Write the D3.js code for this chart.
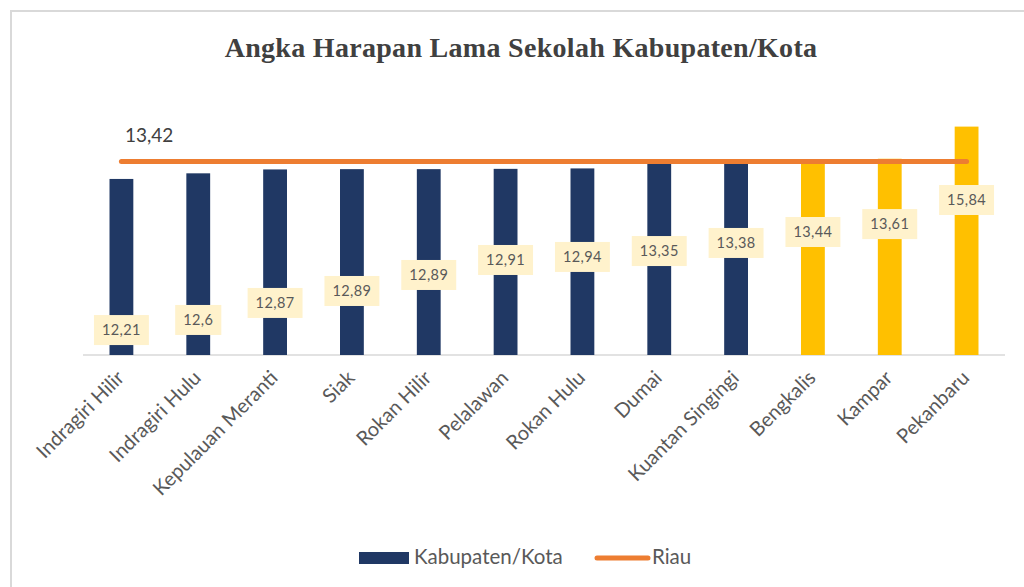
<!DOCTYPE html>
<html>
<head>
<meta charset="utf-8">
<script src="https://cdn.jsdelivr.net/npm/d3@7"></script>
<style>
  body { margin: 0; background: #fff; }
  svg { display: block; }
</style>
</head>
<body>
<div id="chart"></div>
<script>
const categories = ['Indragiri Hilir', 'Indragiri Hulu', 'Kepulauan Meranti', 'Siak', 'Rokan Hilir',
  'Pelalawan', 'Rokan Hulu', 'Dumai', 'Kuantan Singingi', 'Bengkalis', 'Kampar', 'Pekanbaru']
const values = [12.21, 12.6, 12.87, 12.89, 12.89, 12.91, 12.94, 13.35, 13.38, 13.44, 13.61, 15.84]
const riau = 13.42
// where each data label sits, in value units (labels were placed by hand in the original)
const labelAt = [1.73, 2.43, 3.61, 4.44, 5.55, 6.59, 6.8, 7.21, 7.77, 8.53, 9.08, 10.75]

const W = 1024, H = 587
const fmt = (v) => String(v).replace('.', ',')

const svg = d3.select('#chart').append('svg')
  .attr('width', W)
  .attr('height', H)

// chart frame
svg.append('rect')
  .attr('x', 11).attr('y', 11)
  .attr('width', W).attr('height', H)
  .attr('fill', 'none')
  .attr('stroke', '#d9d9d9')
  .attr('stroke-width', 2)

svg.append('text')
  .attr('x', 521).attr('y', 57)
  .attr('text-anchor', 'middle')
  .attr('font-family', 'Liberation Serif, serif')
  .attr('font-weight', 'bold')
  .attr('font-size', 28)
  .attr('letter-spacing', 0.3)
  .attr('fill', '#404040')
  .text('Angka Harapan Lama Sekolah Kabupaten/Kota')

const x = d3.scaleBand()
  .domain(categories)
  .range([83, 1005])
  .paddingInner(0.69)
  .paddingOuter(0.345)

const y = d3.scaleLinear()
  .domain([0, 16])
  .range([355, 124.3])

const data = categories.map((c, i) => ({name: c, v: values[i], at: labelAt[i]}))

// baseline
svg.append('line')
  .attr('x1', 83).attr('x2', 1005)
  .attr('y1', y(0)).attr('y2', y(0))
  .attr('stroke', '#d9d9d9')
  .attr('stroke-width', 1.5)

svg.selectAll('rect.bar')
  .data(data)
  .enter()
    .append('rect')
    .attr('class', 'bar')
    .attr('x', (d) => x(d.name))
    .attr('y', (d) => y(d.v))
    .attr('width', x.bandwidth())
    .attr('height', (d) => y(0) - y(d.v))
    .attr('fill', (d) => d.v > riau ? '#ffc000' : '#203864')

// Riau line
const cx = (name) => x(name) + x.bandwidth() / 2
svg.append('line')
  .attr('x1', cx(categories[0]))
  .attr('x2', cx(categories[categories.length - 1]))
  .attr('y1', y(riau)).attr('y2', y(riau))
  .attr('stroke', '#ed7d31')
  .attr('stroke-width', 5)
  .attr('stroke-linecap', 'round')

svg.append('text')
  .attr('x', 125).attr('y', 142)
  .attr('font-family', 'Lato, sans-serif')
  .attr('font-size', 19)
  .attr('fill', '#404040')
  .text(fmt(riau))

// data labels
const lab = svg.selectAll('g.lab')
  .data(data)
  .enter()
    .append('g')
    .attr('class', 'lab')
    .attr('transform', (d) => `translate(${cx(d.name)},${y(d.at)})`)

lab.append('text')
  .attr('text-anchor', 'middle')
  .attr('dy', '0.35em')
  .attr('font-family', 'Lato, sans-serif')
  .attr('font-size', 14.5)
  .attr('letter-spacing', 0.4)
  .attr('fill', '#595959')
  .text((d) => fmt(d.v))

lab.each(function() {
  const g = d3.select(this)
  const b = g.select('text').node().getBBox()
  g.insert('rect', 'text')
    .attr('x', b.x - 8).attr('y', -15)
    .attr('width', b.width + 16).attr('height', 30)
    .attr('fill', '#fff2cc')
})

// category labels
svg.selectAll('text.cat')
  .data(categories)
  .enter()
    .append('text')
    .attr('class', 'cat')
    .attr('transform', (d) => `translate(${cx(d) + 4},${379}) rotate(-45)`)
    .attr('text-anchor', 'end')
    .attr('font-family', 'Lato, sans-serif')
    .attr('font-size', 20)
    .attr('fill', '#595959')
    .text((d) => d)

// legend
svg.append('rect')
  .attr('x', 359).attr('y', 552)
  .attr('width', 50).attr('height', 12)
  .attr('fill', '#203864')
svg.append('text')
  .attr('x', 414).attr('y', 564)
  .attr('font-family', 'Lato, sans-serif')
  .attr('font-size', 20.5)
  .attr('fill', '#595959')
  .text('Kabupaten/Kota')
svg.append('line')
  .attr('x1', 597).attr('x2', 648)
  .attr('y1', 558).attr('y2', 558)
  .attr('stroke', '#ed7d31')
  .attr('stroke-width', 5)
  .attr('stroke-linecap', 'round')
svg.append('text')
  .attr('x', 652).attr('y', 564)
  .attr('font-family', 'Lato, sans-serif')
  .attr('font-size', 20.5)
  .attr('fill', '#595959')
  .text('Riau')
</script>
</body>
</html>
